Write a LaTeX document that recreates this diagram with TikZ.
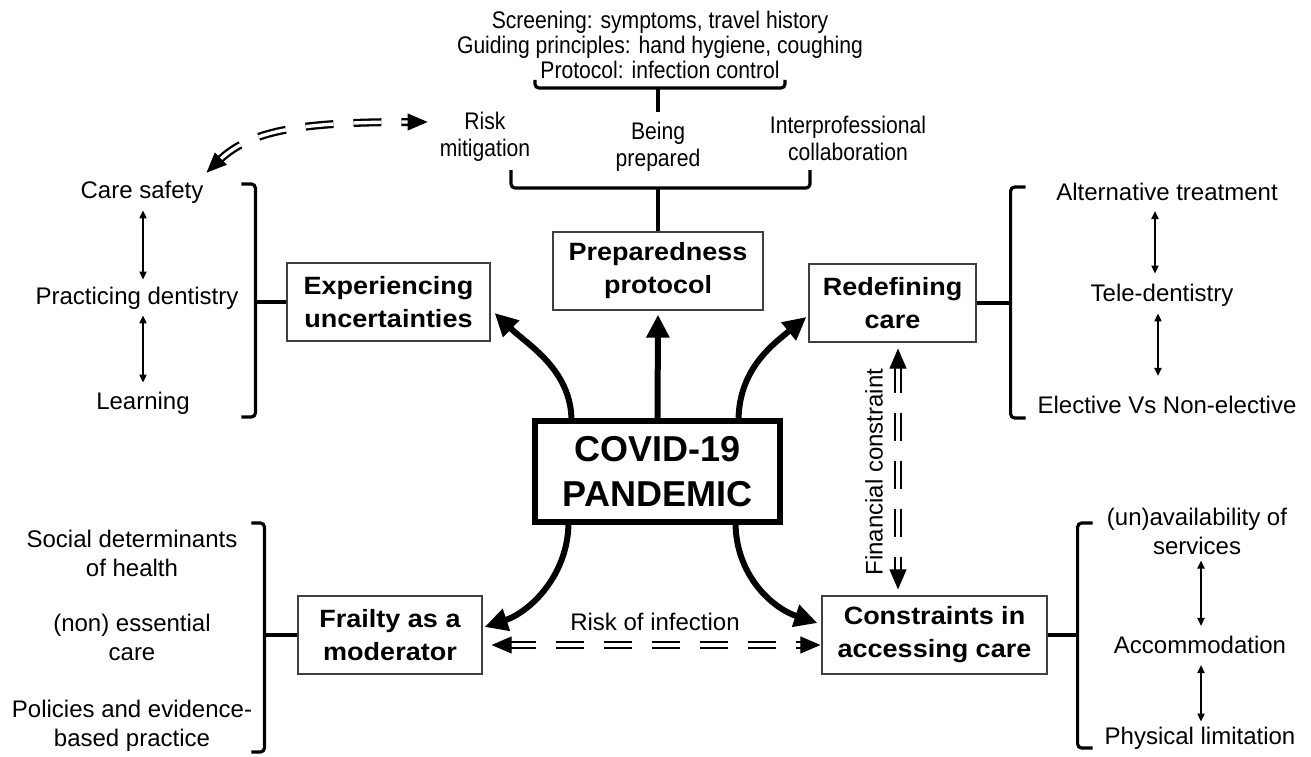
\documentclass[tikz,border=0pt]{standalone}
\usepackage{fontspec}
\setmainfont{Liberation Sans}
\newfontfamily\boxfont[FakeStretch=1.08]{Liberation Sans}
\newfontfamily\condfont[FakeStretch=0.88]{Liberation Sans}
\usetikzlibrary{arrows.meta,calc}
\begin{document}
\begin{tikzpicture}[x=1pt,y=-1pt,
  box/.style={draw=black!75, line width=1.2pt, inner sep=0pt, align=center,
    font=\boxfont\bfseries\fontsize{25}{33}\selectfont},
  covidbox/.style={draw=black, line width=6pt, inner sep=0pt, align=center,
    minimum width=245pt, minimum height=101pt,
    font=\bfseries\fontsize{36}{45}\selectfont},
  txt/.style={inner sep=0pt, align=center, font=\fontsize{24}{29}\selectfont},
  toptxt/.style={inner sep=0pt, align=center, font=\condfont\fontsize{24}{25}\selectfont},
  subtxt/.style={inner sep=0pt, align=center, font=\condfont\fontsize{24}{27}\selectfont},
  bigarr/.style={line width=6pt, -{Triangle[length=23pt,width=22pt]}},
  smallarr/.style={line width=1.8pt, {Triangle[length=8pt,width=7pt]}-{Triangle[length=8pt,width=7pt]}},
  dbline/.style={line width=2.3pt, double, double distance=3.4pt,
    dash pattern=on 28pt off 20pt, shorten <=16pt, shorten >=16pt},
  dbtips/.style={line width=1pt, dash pattern=on 0pt off 5000pt, line cap=butt,
    {Triangle[length=20pt,width=17pt,fill=black]}-{Triangle[length=20pt,width=17pt,fill=black]}},
  brk/.style={line width=3.2pt, rounded corners=4pt}
]
\useasboundingbox (0,0) rectangle (1311,757);

% ---------- boxes ----------
\node[covidbox] (cov) at (657.5,471.5) {COVID-19\\PANDEMIC};
\node[box, minimum width=203pt, minimum height=78pt] (exp) at (388.5,302) {Experiencing\\uncertainties};
\node[box, minimum width=210pt, minimum height=78pt] (prep) at (658,271) {Preparedness\\protocol};
\node[box, minimum width=167pt, minimum height=78pt] (red) at (892.5,303) {Redefining\\care};
\node[box, minimum width=184pt, minimum height=78pt] (frail) at (390,635) {Frailty as a\\moderator};
\node[box, minimum width=225pt, minimum height=78pt] (cons) at (934.5,635) {Constraints in\\accessing care};

% ---------- top texts ----------
\node[toptxt] (scr) at (660,45) {Screening: symptoms, travel history\\Guiding principles: hand hygiene, coughing\\Protocol: infection control};
\node[subtxt] (risk) at (485,137) {Risk\\mitigation};
\node[subtxt] (being) at (658,147) {Being\\prepared};
\node[subtxt] (inter) at (848,138) {Interprofessional\\collaboration};

% ---------- left top cluster ----------
\node[txt] (care) at (142,192) {Care safety};
\node[txt] (pract) at (137,298) {Practicing dentistry};
\node[txt] (learn) at (143,403) {Learning};

% ---------- right top cluster ----------
\node[txt] (alt) at (1167,192) {Alternative treatment};
\node[txt] (tele) at (1162,295) {Tele-dentistry};
\node[txt] (elect) at (1167,405) {Elective Vs Non-elective};

% ---------- left bottom cluster ----------
\node[txt] (social) at (132,553) {Social determinants\\of health};
\node[txt] (noness) at (132,637) {(non) essential\\care};
\node[txt] (policy) at (132,726) {Policies and evidence-\\based practice};

% ---------- right bottom cluster ----------
\node[txt] (unav) at (1197,531) {(un)availability of\\services};
\node[txt] (accom) at (1200,645) {Accommodation};
\node[txt] (phys) at (1200,738) {Physical limitation};

% ---------- labels ----------
\node[txt] (rinf) at (655,622) {Risk of infection};
\node[txt, rotate=90] (fin) at (874,472) {Financial constraint};

% ---------- braces at top ----------
\draw[brk] (535,80) |- (658,88) -| (785,80);
\draw[brk] (658,88) -- ($(being.north)+(0,-10)$);
\draw[brk] (511,170) |- (658,188) -| (810,170);
\draw[brk] (658,188) -- (prep.north);

% ---------- side brackets ----------
\draw[brk] (exp.west) -- ++(-31,0) coordinate (bL1);
\draw[brk] ($(bL1)+(-14,-118)$) -| (bL1) |- ($(bL1)+(-14,115)$);
\draw[brk] (red.east) -- ++(34,0) coordinate (bR1);
\draw[brk] ($(bR1)+(15,-116)$) -| (bR1) |- ($(bR1)+(15,115)$);
\draw[brk] (frail.west) -- ++(-33,0) coordinate (bL2);
\draw[brk] ($(bL2)+(-13,-112)$) -| (bL2) |- ($(bL2)+(-13,117)$);
\draw[brk] (cons.east) -- ++(30,0) coordinate (bR2);
\draw[brk] ($(bR2)+(15,-112)$) -| (bR2) |- ($(bR2)+(15,113)$);

% ---------- thin double arrows ----------
\draw[smallarr] ($(care.south)+(1,7)$) -- ($(care.south |- pract.north)+(1,-7)$);
\draw[smallarr] ($(care.south |- pract.south)+(1,6)$) -- ($(care.south |- learn.north)+(1,-9)$);
\draw[smallarr] ($(alt.south)+(-12,10)$) -- ($(alt.south |- tele.north)+(-12,-10)$);
\draw[smallarr] ($(tele.south)+(-4,7)$) -- ($(tele.south |- elect.north)+(-4,-20)$);
\draw[smallarr] ($(unav.south)+(4,6)$) -- ($(unav.south |- accom.north)+(4,-10)$);
\draw[smallarr] ($(accom.south)+(1,11)$) -- ($(accom.south |- phys.north)+(1,-5)$);

% ---------- thick arrows from COVID ----------
\draw[bigarr] ($(cov.north)+(-86,3)$) .. controls (571.5,370) and (528,345) .. ($(exp.east)+(4,11)$);
\draw[bigarr] ($(cov.north)+(0,3)$) -- ($(prep.south)+(0,4)$);
\draw[bigarr] ($(cov.north)+(81,3)$) .. controls (738.5,370) and (772,345) .. ($(red.west)+(-2,14)$);
\draw[bigarr] ($(cov.south)+(-89,-3)$) .. controls (568.5,575) and (530,612) .. ($(frail.east)+(2,-8)$);
\draw[bigarr] ($(cov.south)+(78,-3)$) .. controls (735.5,575) and (772,608) .. ($(cons.west)+(-4,-12)$);

% ---------- dashed double connectors ----------
\draw[dbline] ($(care.north east)+(3,-8)$) .. controls (250,130) and (300,122) .. ($(risk.west)+(-12,-15)$);
\draw[dbtips] ($(care.north east)+(3,-8)$) .. controls (250,130) and (300,122) .. ($(risk.west)+(-12,-15)$);
\draw[dbline] ($(frail.east)+(9,10)$) -- ($(cons.west)+(-1,10)$);
\draw[dbtips] ($(frail.east)+(9,10)$) -- ($(cons.west)+(-1,10)$);
\draw[dbline] ($(red.south)+(5.5,6)$) -- ($(red.south |- cons.north)+(5.5,-6)$);
\draw[dbtips] ($(red.south)+(5.5,6)$) -- ($(red.south |- cons.north)+(5.5,-6)$);
\end{tikzpicture}
\end{document}
